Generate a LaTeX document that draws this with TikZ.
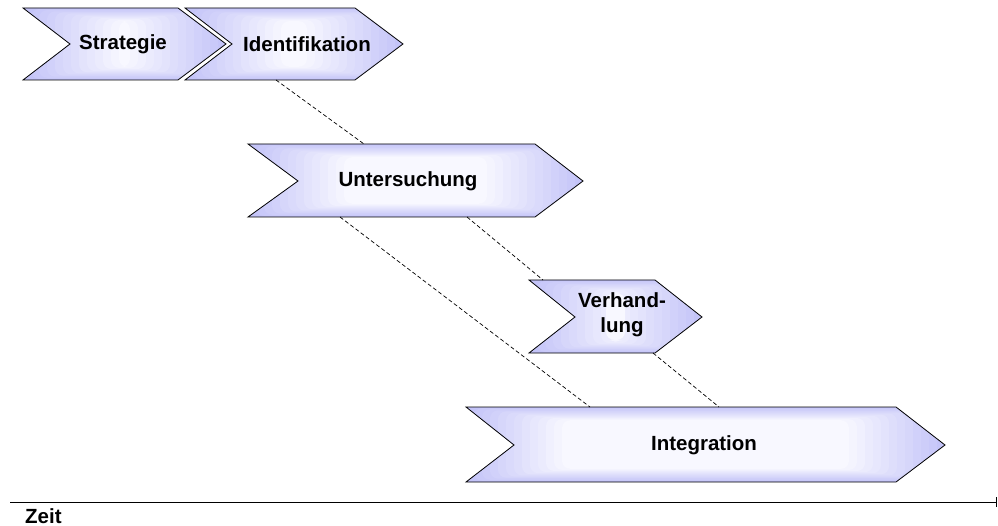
\documentclass[tikz,border=0pt]{standalone}
\usepackage{fontspec}
\setmainfont{Liberation Sans}
\usetikzlibrary{arrows.meta}

\definecolor{phaseedge}{RGB}{196,196,248}
\definecolor{phasemid}{RGB}{248,248,255}

\tikzset{
  phase/.style={draw=black, line width=0.8pt, fill=phaseedge,
    path picture={
      \foreach \i [evaluate=\i as \p using int(100-100*\i/12)] in {1,...,12}
        \fill [phaseedge!\p!phasemid, rounded corners=8pt]
          ([xshift=\i*8pt, yshift=-\i*1.1pt]path picture bounding box.north west) rectangle
          ([xshift=-\i*8pt, yshift=\i*1.1pt]path picture bounding box.south east);
    }},
  phasetext/.style={font=\fontsize{20.5}{25}\selectfont\bfseries, align=center, inner sep=0pt},
  link/.style={draw=black, line width=0.7pt, dash pattern=on 4pt off 2.5pt},
}

\begin{document}
\begin{tikzpicture}[x=1pt,y=-1pt]
    \useasboundingbox (0,0) rectangle (998,526);

    % Phases
    \draw [phase] (23,8) -- (178,8) -- (226,44) -- (178,80) -- (23,80) -- (70,44) -- cycle;
    \node [phasetext] (strat) at (123,44) {Strategie};

    \draw [phase] (185,8) -- (355,8) -- (403,44) -- (355,80) -- (185,80) -- (232,44) -- cycle;
    \node [phasetext] (ident) at (307,44) {Identifikation};

    \draw [phase] (248,144) -- (535,144) -- (583,181) -- (535,217) -- (248,217) -- (298,181) -- cycle;
    \node [phasetext] (unters) at (408,181) {Untersuchung};

    \draw [phase] (529,280) -- (655,280) -- (702,317) -- (655,353) -- (529,353) -- (575,317) -- cycle;
    \node [phasetext] (verh) at (622,315) {Verhand-\\lung};

    \draw [phase] (466,407) -- (896,407) -- (945,445) -- (896,482) -- (466,482) -- (514,445) -- cycle;
    \node [phasetext] (integ) at (704,445) {Integration};

    % Dashed links between the phases
    \coordinate (ident-out) at (276,80);
    \coordinate (unters-in) at (364,144);
    \coordinate (unters-out1) at (340,217);
    \coordinate (unters-out2) at (467,217);
    \coordinate (verh-in) at (543,280);
    \coordinate (verh-out) at (653,353);
    \coordinate (integ-in1) at (590,407);
    \coordinate (integ-in2) at (719,407);
    \draw [link] (ident-out) -- (unters-in);
    \draw [link] (unters-out1) -- (integ-in1);
    \draw [link] (unters-out2) -- (verh-in);
    \draw [link] (verh-out) -- (integ-in2);

    % Time axis
    \coordinate (t0) at (10,502);
    \coordinate (t1) at (997,502);
    \draw [line width=1pt, -{Bar[width=10pt]}] (t0) -- (t1);
    \node [phasetext, anchor=west] (zeit) at (25,516) {Zeit};
\end{tikzpicture}
\end{document}
